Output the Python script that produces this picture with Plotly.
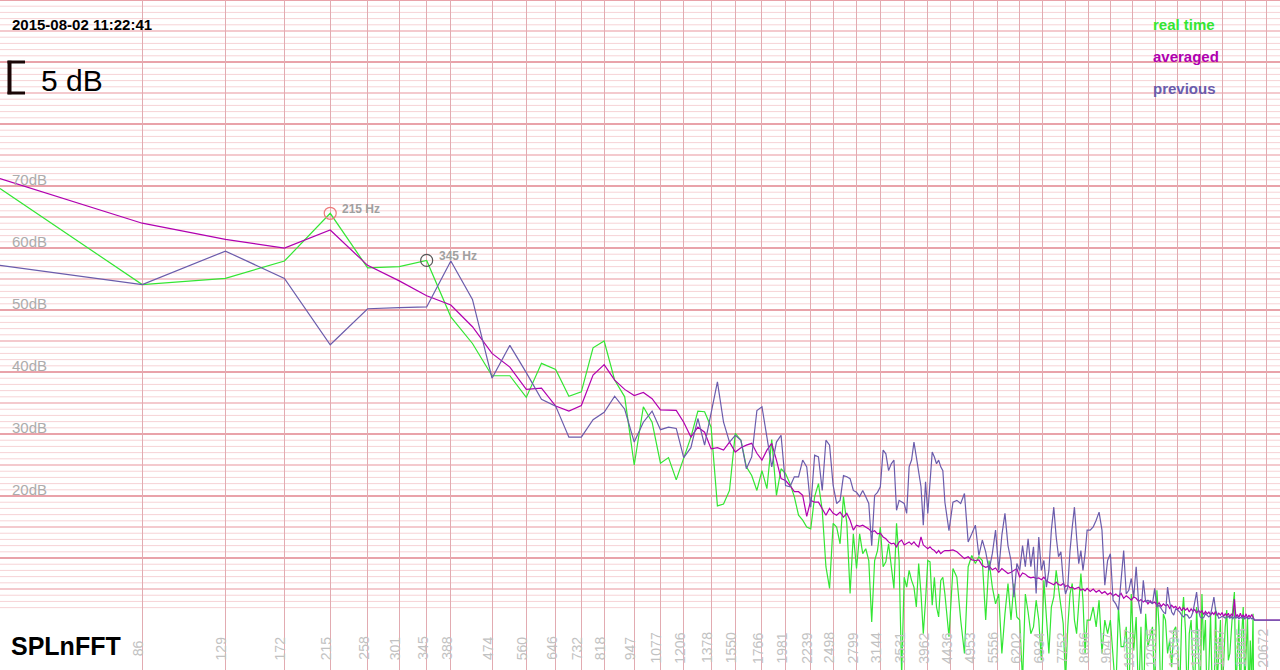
import math
import plotly.graph_objects as go

# FFT bins (44.1 kHz, 1024 points) and the dB value read for each bin
bin_hz = 44100 / 1024
bins = list(range(1, 101)) + list(range(102, 201, 2)) + list(range(203, 450, 3)) + [452, 480, 512]

real_time = [
    69.6, 54.1, 55.1, 57.9, 65.6, 56.8, 57.0, 58.0, 48.9, 44.6,
    39.4, 39.4, 35.9, 41.4, 40.4, 36.1, 36.8, 43.9, 45.0, 38.7,
    36.0, 25.0, 34.4, 31.9, 25.3, 26.2, 22.6, 26.3, 29.5, 33.7,
    33.6, 31.1, 18.4, 18.7, 20.9, 30.1, 29.0, 24.7, 23.3, 20.9,
    24.1, 21.2, 29.1, 20.1, 24.4, 23.6, 22.0, 19.9, 16.9, 16.1,
    15.0, 14.7, 19.9, 22.0, 17.7, 8.6, 5.1, 15.6, 15.0, 12.3,
    19.9, 15.6, 4.3, 13.9, 8.3, 13.9, 10.7, 11.5, 9.6, -0.3,
    9.6, 11.2, 15.0, 8.6, 9.4, 12.3, 9.1, 5.1, 15.6, 9.6,
    -9.0, 6.9, 5.3, 8.0, 6.4, 5.3, 2.1, 9.1, 4.3, -2.2,
    3.2, 9.6, 9.4, 2.4, 6.9, 2.1, 0.5, 6.4, 6.9, 4.2,
    -2.7, 8.3, 6.9, 0.0, -5.4, 8.6, 10.4, 9.1, 10.2, 9.6,
    0.0, 9.6, 5.3, 2.6, 4.2, -5.4, 1.0, 5.9, 0.0, 5.9,
    0.5, 0.0, -10.0, 4.2, 1.3, -2.2, -1.1, 3.2, 0.0, -6.5,
    6.4, 0.0, -5.4, 2.1, 3.7, 8.0, 5.3, 2.1, -0.6, -10.0,
    -1.1, 4.2, 5.9, 0.0, -2.2, 2.6, 7.5, 3.2, -5.4, 0.0,
    0.0, 2.1, -1.1, 3.2, -5.4, 0.0, -2.2, 0.0, -5.4, -12.0,
    2.1, -4.3, -4.3, -1.1, -14.0, 4.2, -4.9, 0.5, -13.0, -1.1,
    -15.0, 1.0, -4.3, -2.7, -1.1, -12.0, 4.8, -1.1, -16.0, 1.0,
    0.0, -5.4, -3.3, -7.6, -1.7, -1.1, -4.3, -12.0, 0.0, 3.7,
    -1.7, -14.0, -2.2, 0.0, -7.6, -11.0, 2.1, -5.4, -13.0, 4.2,
    -4.9, 0.0, -15.0, -7.6, 1.0, -12.0, -16.0, 2.1, -10.0, -5.4,
    0.0, -13.0, -7.6, -1.1, 1.6, -6.5, -5.4, -0.6, 2.1, 4.5,
    -12.0, -5.4, 0.0, -14.0, -2.2, 2.1, -11.0, -5.4, 0.5, -13.0,
    -3.3, -10.0, 1.0,
    -30.0, -30.0, -30.0,
]

averaged = [
    71.2, 64.0, 61.4, 60.0, 62.9, 57.2, 54.7, 52.3, 50.8, 47.3,
    43.0, 40.8, 37.2, 37.4, 34.5, 33.7, 34.6, 39.5, 41.2, 38.7,
    37.2, 36.2, 36.7, 35.7, 33.9, 33.8, 33.8, 31.9, 29.5, 31.1,
    30.3, 27.6, 27.8, 27.4, 28.7, 27.1, 27.8, 28.2, 28.5, 26.9,
    25.8, 27.4, 28.5, 25.8, 22.8, 22.5, 21.7, 20.7, 20.7, 20.1,
    16.7, 19.3, 19.0, 19.0, 18.0, 16.9, 18.0, 17.2, 16.9, 17.4,
    16.6, 17.2, 16.1, 14.5, 15.3, 15.1, 15.3, 15.0, 14.7, 14.2,
    14.4, 13.9, 14.0, 13.4, 13.1, 12.6, 12.3, 12.4, 11.8, 12.6,
    12.9, 12.1, 12.4, 12.6, 12.2, 12.6, 12.1, 11.8, 13.4, 12.1,
    11.8, 11.5, 11.8, 11.4, 11.2, 10.8, 11.2, 10.7, 11.0, 11.2,
    11.2, 11.3, 11.0, 10.4, 9.9, 10.2, 9.7, 9.6, 9.7, 8.8,
    8.5, 8.7, 8.1, 8.4, 7.7, 8.3, 7.9, 7.5, 7.7, 8.0,
    8.3, 6.9, 7.6, 7.4, 7.0, 6.8, 6.9, 6.7, 6.8, 6.5,
    6.9, 6.3, 6.1, 6.0, 5.7, 6.1, 5.7, 5.6, 5.9, 5.4,
    5.6, 5.2, 5.3, 5.0, 5.2, 5.3, 4.8, 5.0, 4.7, 5.1,
    4.6, 5.0, 4.5, 4.8, 4.3, 4.6, 4.1, 4.4, 3.9, 4.2,
    3.8, 4.3, 3.5, 3.9, 3.6, 3.2, 3.7, 3.5, 3.0, 3.3,
    2.9, 3.2, 2.6, 3.1, 2.7, 2.9, 2.4, 2.8, 2.2, 2.6,
    2.3, 2.5, 1.9, 2.4, 2.0, 2.2, 1.7, 2.1, 1.5, 2.0,
    1.6, 1.9, 1.3, 1.8, 1.4, 1.7, 1.1, 1.6, 1.2, 1.5,
    0.9, 1.4, 1.0, 1.3, 0.8, 1.2, 0.9, 1.4, 0.7, 1.1,
    0.8, 1.2, 0.6, 1.0, 0.7, 1.1, 0.5, 1.0, 0.6, 3.4,
    0.5, 0.9, 0.4, 1.1, 0.5, 0.8, 0.4, 1.0, 0.3, 0.8,
    0.4, 0.9, 0.5,
    0.0, 0.0, 0.0,
]

previous = [
    57.2, 54.1, 59.5, 55.1, 44.4, 50.2, 50.4, 50.5, 57.9, 51.7,
    39.0, 44.3, 39.9, 35.6, 34.5, 29.5, 29.5, 32.3, 33.5, 36.1,
    34.0, 28.7, 31.9, 33.7, 30.7, 31.1, 30.9, 26.2, 27.8, 32.5,
    28.2, 33.6, 38.4, 31.9, 28.7, 29.8, 29.0, 24.4, 26.3, 33.8,
    34.4, 29.5, 24.7, 28.7, 29.8, 21.7, 21.5, 23.1, 23.1, 25.8,
    24.7, 18.2, 26.6, 26.3, 20.9, 29.0, 28.2, 21.7, 18.8, 19.3,
    23.3, 23.1, 22.8, 20.9, 20.6, 19.9, 20.9, 19.9, 18.8, 12.0,
    20.1, 20.6, 21.5, 27.4, 26.8, 24.1, 25.2, 25.8, 17.7, 19.3,
    19.0, 18.8, 17.2, 24.7, 25.8, 28.7, 26.3, 23.6, 21.5, 15.3,
    22.3, 17.2, 22.0, 27.1, 26.3, 25.2, 25.8, 24.7, 24.1, 19.0,
    14.4, 19.0, 19.3, 18.8, 20.4, 12.6, 13.9, 15.3, 10.4, 12.9,
    11.0, 8.0, 10.7, 14.5, 8.0, 13.7, 17.2, 12.0, 9.6, 3.7,
    9.1, 8.0, 12.0, 8.6, 13.1, 8.6, 11.8, 4.3, 13.4, 8.0,
    9.6, 5.3, 8.0, 14.5, 18.2, 13.4, 10.2, 11.0, 6.4, 4.2,
    5.3, 11.2, 15.0, 18.2, 13.4, 9.1, 11.2, 8.0, 10.7, 14.5,
    14.5, 15.0, 16.1, 17.4, 14.5, 5.6, 9.6, 10.7, 3.2, 2.6,
    1.6, 6.9, 11.2, 4.2, 4.8, 6.7, 3.7, 8.6, 2.9, 1.0,
    6.4, 2.9, 3.2, 2.9, 2.6, 5.1, 2.1, 2.4, 1.8, 1.3,
    1.0, 5.3, 2.9, 1.3, 0.8, 1.8, 1.6, 1.3, 0.8, 0.5,
    0.9, 0.8, 0.3, 0.5, 1.3, 2.9, 4.5, 1.6, 0.5, 0.3,
    0.4, 1.0, 0.8, 0.5, 0.8, 2.4, 3.7, 1.6, 0.8, 0.3,
    0.4, 0.6, 0.5, 0.3, 0.4, 0.6, 0.3, 0.5, 0.2, 0.6,
    0.3, 0.5, 0.2, 0.4, 0.3, 0.5, 0.2, 0.4, 0.3, 0.2,
    0.4, 0.2, 0.3,
    0.0, 0.0, 0.0,
]

# frequency labels along the bottom (bin index -> label)
tick_bins = [2, 3, 4, 5, 6, 7, 8, 9, 11, 13, 15, 17, 19, 22, 25, 28, 32, 36, 41, 46,
             52, 58, 65, 73, 82, 92, 103, 115, 129, 144, 161, 180, 201, 224, 250,
             279, 311, 347, 387, 432, 480]
tick_labels = ["86", "129", "172", "215", "258", "301", "345", "388", "474", "560",
               "646", "732", "818", "947", "1077", "1206", "1378", "1550", "1766", "1981",
               "2239", "2498", "2799", "3144", "3531", "3962", "4436", "4953", "5556", "6202",
               "6934", "7752", "8656", "9647", "10767", "12016", "13394", "14944", "16667",
               "18605", "20672"]

db_labels = [70, 60, 50, 40, 30, 20]

peak_bins = [5, 8]
peak_labels = ["215 Hz", "345 Hz"]
peak_colors = ["#ee7b7b", "#555555"]

series_names = ["real time", "averaged", "previous"]
series_colors = ["#33e633", "#b000b0", "#6a5cac"]

freqs = [b * bin_hz for b in bins]

fig = go.Figure()
for name, vals, col in zip(series_names, [real_time, averaged, previous], series_colors):
    fig.add_trace(go.Scatter(x=freqs, y=vals, mode="lines", name=name,
                             line=dict(color=col, width=1.2)))

annotations = []

# circles on the two peaks of the real time curve
for pb, lab, col in zip(peak_bins, peak_labels, peak_colors):
    py = real_time[bins.index(pb)]
    fig.add_trace(go.Scatter(x=[pb * bin_hz], y=[py], mode="markers",
                             marker=dict(symbol="circle-open", size=12, color=col,
                                         line=dict(color=col, width=1.2))))
    annotations.append(dict(x=math.log10(pb * bin_hz), xref="x", y=py, yref="y",
                            text="<b>" + lab + "</b>", showarrow=False, xanchor="left",
                            yanchor="middle", xshift=10, yshift=4,
                            font=dict(size=12, color="#a0a0a0")))

# horizontal grid every dB, heavier every 5 and 10 dB
shapes = []
for v in range(2, 101):
    if v % 10 == 0:
        col, w = "#e9a3aa", 2
    elif v % 5 == 0:
        col, w = "#f0b9be", 1.6
    else:
        col, w = "#f7d3d6", 1
    shapes.append(dict(type="line", xref="paper", yref="y", x0=0, x1=1, y0=v, y1=v,
                       line=dict(color=col, width=w), layer="below"))

# 5 dB scale bracket
bk = "#1a0606"
shapes.append(dict(type="line", xref="paper", yref="y", x0=9.5 / 1280, x1=9.5 / 1280,
                   y0=84.8, y1=90.2, line=dict(color=bk, width=4)))
shapes.append(dict(type="line", xref="paper", yref="y", x0=7.5 / 1280, x1=25 / 1280,
                   y0=90, y1=90, line=dict(color=bk, width=3)))
shapes.append(dict(type="line", xref="paper", yref="y", x0=7.5 / 1280, x1=25 / 1280,
                   y0=85, y1=85, line=dict(color=bk, width=3)))

for v in db_labels:
    annotations.append(dict(x=10 / 1280, xref="paper", y=v, yref="y", text=f"{v}dB",
                            showarrow=False, xanchor="left", yanchor="bottom", yshift=-4,
                            font=dict(size=15, color="#acacac")))

for tb, lab in zip(tick_bins, tick_labels):
    annotations.append(dict(x=math.log10(tb * bin_hz), xref="x", y=22 / 670, yref="paper",
                            text=lab, textangle=-90, showarrow=False, xanchor="center",
                            yanchor="middle", xshift=-4,
                            font=dict(size=14, color="#c2c2c2")))

annotations.append(dict(x=10 / 1280, xref="paper", y=1 - 25 / 670, yref="paper",
                        text="<b>2015-08-02 11:22:41</b>", showarrow=False,
                        xanchor="left", yanchor="middle", font=dict(size=15, color="#000000")))
annotations.append(dict(x=39 / 1280, xref="paper", y=1 - 81 / 670, yref="paper",
                        text="5 dB", showarrow=False, xanchor="left", yanchor="middle",
                        font=dict(size=30, color="#000000")))
annotations.append(dict(x=9 / 1280, xref="paper", y=24 / 670, yref="paper",
                        text="<b>SPLnFFT</b>", showarrow=False, xanchor="left", yanchor="middle",
                        font=dict(size=25, color="#000000")))

for i, (name, col) in enumerate(zip(series_names, series_colors)):
    annotations.append(dict(x=1151 / 1280, xref="paper", y=1 - (25 + 31.5 * i) / 670, yref="paper",
                            text="<b>" + name + "</b>", showarrow=False, xanchor="left",
                            yanchor="middle", font=dict(size=15, color=col)))

fig.update_layout(
    width=1280, height=670,
    margin=dict(l=0, r=0, t=0, b=0),
    paper_bgcolor="white", plot_bgcolor="white",
    showlegend=False,
    font=dict(family="Liberation Sans, Arial, sans-serif"),
    shapes=shapes,
    annotations=annotations,
    xaxis=dict(type="log", range=[math.log10(bin_hz), math.log10(22050)],
               tickvals=[b * bin_hz for b in tick_bins], showticklabels=False,
               showgrid=True, gridcolor="#e2abb1", gridwidth=1, zeroline=False,
               showline=False, ticks=""),
    yaxis=dict(range=[-8.06, 100], showgrid=False, showticklabels=False,
               zeroline=False, showline=False, ticks=""),
)

fig.write_html("out.html", config={"displayModeBar": False},
               post_script="document.body.style.margin='0';")
